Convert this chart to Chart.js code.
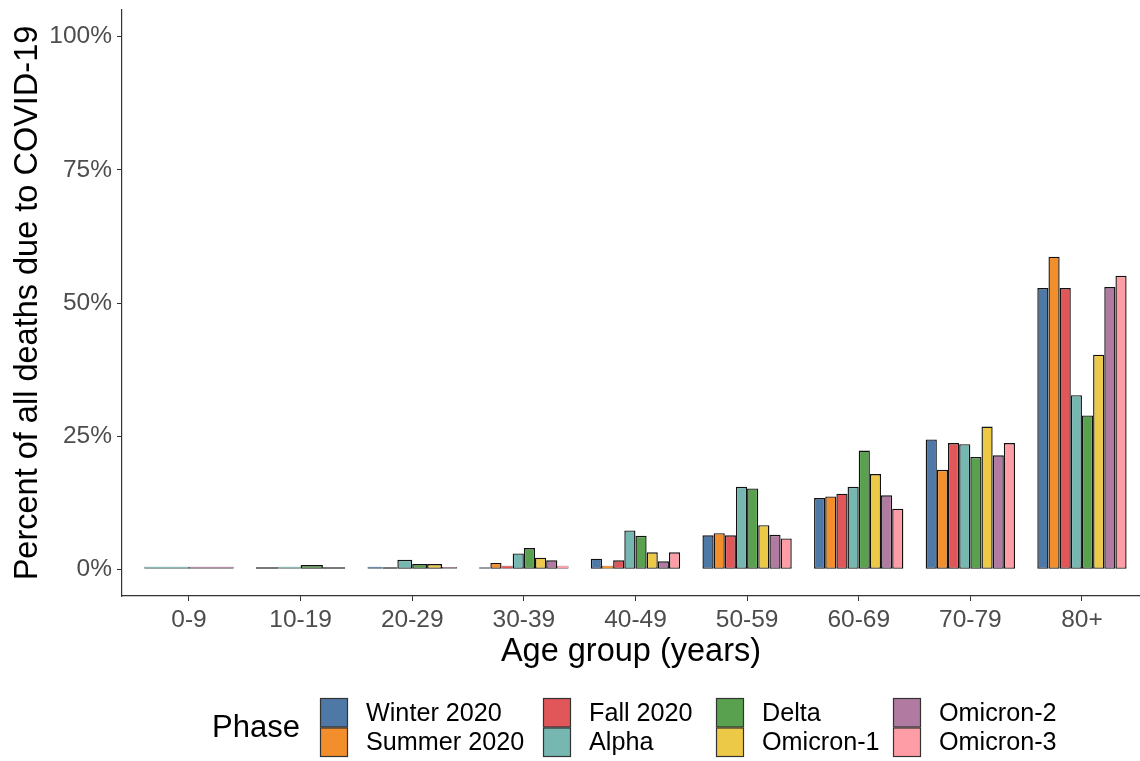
<!DOCTYPE html>
<html>
<head>
<meta charset="utf-8">
<script src="https://cdn.jsdelivr.net/npm/chart.js@4/dist/chart.umd.min.js"></script>
<style>
  html, body { margin: 0; padding: 0; background: #ffffff; }
  #wrap { width: 1140px; height: 761px; position: relative; }
</style>
</head>
<body>
<div id="wrap"><canvas id="chart" width="1140" height="761"></canvas></div>
<script>
// Age groups on the x axis
const ageGroups = ['0-9', '10-19', '20-29', '30-39', '40-49', '50-59', '60-69', '70-79', '80+'];

// Pandemic phases (one bar series each)
const phases = ['Winter 2020', 'Summer 2020', 'Fall 2020', 'Alpha', 'Delta', 'Omicron-1', 'Omicron-2', 'Omicron-3'];

// Percent of all deaths due to COVID-19, per age group (null = no bar for that phase)
const winter2020 = [null, 0.1, 0.5, 0.4, 2.0, 6.4, 13.4, 24.4, 52.8];
const summer2020 = [null, null, 0.1, 1.2, 0.7, 6.8, 13.7, 18.7, 58.7];
const fall2020   = [null, null, null, 0.7, 1.7, 6.4, 14.2, 23.7, 52.8];
const alpha      = [0.5, 0.5, 1.8, 3.0, 7.3, 15.5, 15.5, 23.5, 32.7];
const delta      = [null, 0.8, 1.0, 4.0, 6.3, 15.2, 22.3, 21.1, 28.9];
const omicron1   = [null, null, 1.0, 2.2, 3.2, 8.3, 17.9, 26.8, 40.3];
const omicron2   = [0.5, 0.1, 0.45, 1.7, 1.5, 6.5, 13.9, 21.4, 53.0];
const omicron3   = [null, null, null, 0.7, 3.2, 5.8, 11.4, 23.7, 55.1];

// y axis tick values (percent)
const yTicks = [0, 25, 50, 75, 100];

const seriesValues = [winter2020, summer2020, fall2020, alpha, delta, omicron1, omicron2, omicron3];
const phaseColors = ['#4E79A7', '#F28E2B', '#E15759', '#76B7B2', '#59A14F', '#EDC948', '#B07AA1', '#FF9DA7'];

const FONT = '"Liberation Sans", Arial, Helvetica, sans-serif';
const TICK_SIZE = 24.5;
const LEGEND_TEXT_SIZE = 25.2;
const TITLE_SIZE = 32.5;

// Discrete axis with extra room on both ends (0.6 of a category step)
const X_START = -0.6;
const X_END = 8.52;
class ExpandedCategoryScale extends Chart.CategoryScale {
  static id = 'expandedCategory';
  configure() {
    super.configure();
    this._startValue = X_START;
    this._valueRange = X_END - X_START;
  }
}
Chart.register(ExpandedCategoryScale);

// Legend laid out in two rows, filled column by column, with a "Phase" title
const LEGEND = {
  titleX: 212, midY: 728,
  top: 698, keyW: 28, keyH: 29.5,
  colX: [320, 543, 716, 893], textGap: 18
};
const phaseLegend = {
  id: 'phaseLegend',
  afterDraw(chart) {
    const ctx = chart.ctx;
    ctx.save();
    ctx.textAlign = 'left';
    ctx.textBaseline = 'middle';
    ctx.fillStyle = '#000';
    ctx.font = '31px ' + FONT;
    ctx.fillText('Phase', LEGEND.titleX, LEGEND.midY);
    chart.data.datasets.forEach((ds, i) => {
      const col = Math.floor(i / 2), row = i % 2;
      const x = LEGEND.colX[col];
      const y = LEGEND.top + row * LEGEND.keyH;
      ctx.fillStyle = ds.backgroundColor;
      ctx.fillRect(x, y, LEGEND.keyW, LEGEND.keyH);
      ctx.strokeStyle = '#333';
      ctx.lineWidth = 1.2;
      ctx.strokeRect(x + 0.5, y + 0.5, LEGEND.keyW - 1, LEGEND.keyH - 1);
      ctx.fillStyle = '#000';
      ctx.font = LEGEND_TEXT_SIZE + 'px ' + FONT;
      ctx.fillText(ds.label, x + LEGEND.keyW + LEGEND.textGap, y + LEGEND.keyH / 2 + 1);
    });
    ctx.restore();
  }
};

Chart.defaults.font.family = FONT;

// Thinner outline on very short bars so their fill stays visible
const outlineWidth = (c) => {
  const v = c.raw;
  return (v != null && v >= 0.3 && v < 0.8) ? 0.6 : 1.4;
};

new Chart(document.getElementById('chart'), {
  type: 'bar',
  data: {
    labels: ageGroups,
    datasets: phases.map((p, i) => ({
      label: p,
      data: seriesValues[i],
      backgroundColor: phaseColors[i],
      borderColor: '#111111',
      borderWidth: outlineWidth,
      borderSkipped: false,
      minBarLength: 2,
      skipNull: true,
      categoryPercentage: 0.8,
      barPercentage: 1.0
    }))
  },
  options: {
    responsive: false,
    animation: false,
    layout: { padding: { top: 10, left: 0, right: 0, bottom: 85 } },
    plugins: {
      legend: { display: false },
      tooltip: { enabled: false }
    },
    scales: {
      x: {
        type: 'expandedCategory',
        grid: { drawOnChartArea: false, offset: false, tickLength: 5, color: '#333', lineWidth: 1 },
        border: { color: '#333', width: 1.2 },
        ticks: { font: { size: TICK_SIZE }, color: '#4D4D4D', padding: 5, maxRotation: 0, autoSkip: false },
        title: {
          display: true, text: 'Age group (years)', color: '#000',
          font: { size: TITLE_SIZE }, padding: { top: 0, bottom: 4 }
        },
        afterFit(s) { s.height = 80; s.paddingLeft = 0; s.paddingRight = 0; }
      },
      y: {
        min: -5, max: 105,
        afterBuildTicks(s) { s.ticks = yTicks.map(v => ({ value: v })); },
        grid: { drawOnChartArea: false, tickLength: 5, color: '#333', lineWidth: 1 },
        border: { color: '#333', width: 1.2 },
        ticks: { font: { size: TICK_SIZE }, color: '#4D4D4D', padding: 5, callback: v => v + '%' },
        title: {
          display: true, text: 'Percent of all deaths due to COVID-19', color: '#000',
          font: { size: TITLE_SIZE }, padding: { top: 9, bottom: 0 }
        },
        afterFit(s) { s.width = 122; s.paddingTop = 0; s.paddingBottom = 0; }
      }
    }
  },
  plugins: [phaseLegend]
});
</script>
</body>
</html>
